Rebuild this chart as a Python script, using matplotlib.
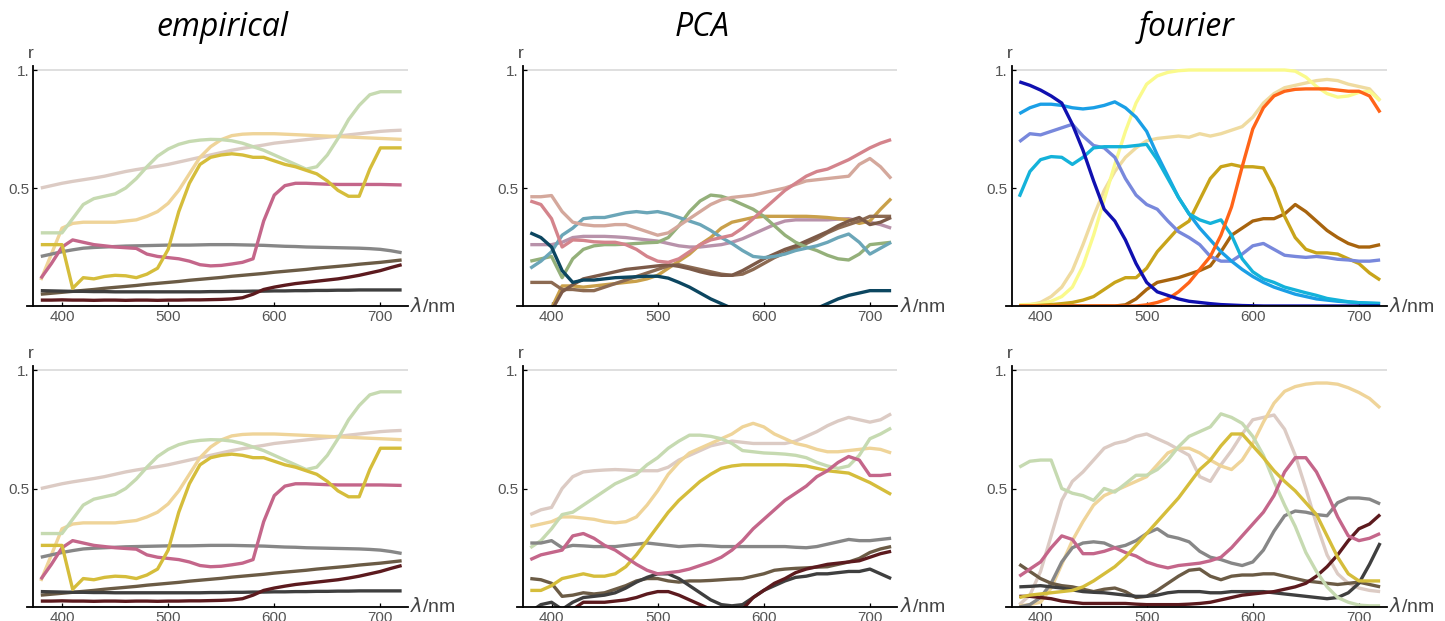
import matplotlib.pyplot as plt

plt.rcParams["font.family"] = ["Liberation Sans", "DejaVu Sans"]

# wavelength grid (nm)
WL = list(range(380, 721, 10))

# ---------- empirical (top and bottom are the same set) ----------
emp_green = [.31, .31, .31, .37, .43, .455, .465, .475, .50, .54, .59, .635, .665, .685, .697, .703, .706, .705,
             .70, .69, .675, .66, .64, .62, .60, .58, .59, .64, .71, .79, .85, .895, .908, .908, .908]
emp_beige = [.50, .51, .52, .528, .535, .542, .55, .56, .57, .578, .585, .592, .60, .61, .62, .63, .64, .65,
             .66, .668, .675, .682, .69, .695, .70, .705, .71, .715, .72, .725, .73, .735, .74, .743, .745]
emp_wheat = [.11, .22, .33, .35, .355, .355, .355, .355, .36, .365, .38, .40, .435, .49, .56, .63, .675, .705,
             .722, .728, .73, .73, .73, .728, .726, .724, .722, .72, .718, .716, .714, .712, .71, .708, .706]
emp_yellow = [.26, .26, .26, .075, .12, .115, .125, .13, .128, .12, .135, .16, .24, .40, .52, .60, .63, .64,
              .645, .64, .63, .63, .615, .60, .59, .575, .56, .53, .49, .465, .465, .58, .67, .67, .67]
emp_pink = [.117, .18, .25, .28, .27, .26, .255, .25, .247, .244, .22, .21, .205, .20, .19, .175, .17, .172,
            .178, .185, .20, .36, .47, .51, .52, .52, .518, .516, .515, .515, .515, .515, .515, .514, .513]
emp_gray = [.21, .22, .23, .238, .245, .248, .25, .252, .254, .255, .256, .257, .258, .258, .258, .259, .26, .26,
            .26, .259, .258, .257, .255, .253, .252, .25, .249, .248, .247, .246, .245, .243, .24, .234, .226]
emp_olive = [.050, .054, .058, .062, .066, .070, .075, .079, .083, .087, .092, .096, .100, .104, .109, .113, .117,
             .121, .126, .130, .134, .138, .143, .147, .151, .155, .160, .164, .168, .172, .177, .181, .185, .190, .195]
emp_dark = [.065, .064, .063, .062, .062, .061, .061, .060, .060, .060, .060, .060, .060, .060, .060, .060, .061,
            .061, .062, .062, .063, .063, .064, .064, .065, .065, .066, .066, .067, .067, .068, .068, .068, .068, .068]
emp_maroon = [.025, .025, .026, .025, .025, .024, .025, .025, .024, .025, .025, .024, .025, .025, .026, .026, .027,
              .028, .03, .035, .05, .07, .08, .088, .095, .10, .105, .11, .115, .122, .13, .14, .15, .163, .175]

# ---------- PCA top ----------
pca1_navy = [.31, .29, .25, .15, .10, .11, .11, .115, .12, .122, .124, .126, .126, .118, .10, .08, .055, .03,
             .01, -.01, -.03, -.05, -.06, -.06, -.06, -.05, -.03, -.01, .01, .03, .045, .055, .065, .065, .065]
pca1_teal = [.16, .19, .23, .30, .33, .37, .375, .375, .385, .395, .40, .395, .40, .39, .375, .36, .345, .32,
             .29, .265, .235, .21, .205, .21, .22, .235, .245, .255, .27, .29, .305, .27, .22, .245, .27]
pca1_green = [.19, .20, .21, .12, .20, .24, .255, .26, .26, .262, .265, .268, .27, .29, .34, .40, .445, .47,
              .465, .45, .43, .41, .38, .34, .30, .27, .25, .235, .215, .20, .195, .22, .26, .265, .27]
pca1_rose = [.445, .43, .37, .25, .28, .278, .272, .27, .27, .26, .24, .21, .19, .185, .20, .23, .26, .28,
             .29, .30, .33, .37, .41, .45, .49, .52, .55, .57, .58, .60, .62, .645, .67, .69, .705]
pca1_dusty = [.463, .463, .468, .40, .355, .345, .34, .34, .345, .345, .33, .315, .30, .31, .34, .37, .40, .43,
              .45, .46, .465, .47, .48, .49, .50, .515, .53, .535, .54, .545, .55, .60, .625, .59, .54]
pca1_mauve = [.26, .26, .26, .27, .29, .295, .295, .295, .293, .29, .285, .28, .275, .265, .255, .25, .25, .255,
              .26, .27, .285, .305, .325, .345, .36, .365, .365, .365, .365, .368, .37, .36, .355, .345, .33]
pca1_ochre = [-.05, -.03, -.01, .085, .085, .08, .085, .09, .095, .10, .105, .115, .13, .16, .19, .22, .26, .29,
              .33, .355, .365, .375, .38, .38, .38, .38, .38, .378, .375, .37, .365, .35, .36, .41, .455]
pca1_brown1 = [.10, .10, .10, .07, .07, .065, .065, .08, .095, .11, .125, .14, .155, .17, .175, .165, .155, .145,
               .135, .13, .135, .155, .18, .205, .225, .245, .265, .285, .31, .33, .345, .36, .38, .38, .38]
pca1_brown2 = [-.05, -.04, -.02, .06, .09, .115, .125, .135, .145, .155, .16, .165, .17, .175, .168, .158, .145,
               .135, .13, .13, .15, .175, .20, .22, .24, .255, .275, .295, .315, .34, .36, .375, .345, .355, .375]

# ---------- fourier top ----------
f1_navy = [.95, .935, .915, .89, .86, .77, .66, .53, .41, .36, .28, .18, .10, .06, .045, .03, .02, .015,
           .01, .006, .004, .002, .001, 0, 0, 0, 0, 0, 0, 0, 0, 0, 0, 0, 0]
f1_sky = [.815, .84, .855, .855, .85, .84, .835, .84, .85, .865, .84, .80, .74, .64, .55, .46, .39, .33,
          .28, .23, .19, .155, .125, .10, .08, .065, .05, .04, .03, .025, .02, .017, .014, .012, .01]
f1_cyan = [.463, .57, .62, .633, .63, .60, .63, .67, .675, .675, .675, .68, .685, .62, .54, .46, .39, .365,
           .35, .365, .30, .20, .145, .115, .10, .08, .068, .056, .045, .032, .025, .018, .014, .012, .011]
f1_peri = [.696, .73, .725, .74, .755, .77, .72, .68, .67, .63, .54, .47, .43, .41, .36, .315, .29, .26,
           .21, .19, .19, .22, .255, .265, .24, .215, .21, .206, .21, .205, .198, .195, .19, .19, .195]
f1_yellow = [.005, .007, .01, .02, .04, .08, .17, .30, .45, .60, .74, .86, .94, .975, .99, .997, 1.0, 1.0,
             1.0, 1.0, 1.0, 1.0, 1.0, 1.0, 1.0, 1.0, .995, .97, .93, .90, .885, .89, .905, .91, .87]
f1_wheat = [0, .005, .015, .04, .08, .15, .26, .38, .49, .57, .63, .67, .70, .71, .715, .72, .715, .73,
            .72, .73, .745, .76, .80, .86, .90, .925, .935, .945, .955, .96, .955, .94, .93, .92, .87]
f1_orange = [0, 0, 0, 0, 0, 0, 0, 0, 0, 0, 0, 0, .005, .015, .03, .06, .10, .155,
             .21, .30, .42, .59, .75, .84, .89, .91, .918, .92, .92, .92, .915, .91, .91, .89, .82]
f1_gold = [0, 0, .003, .006, .01, .015, .025, .04, .07, .10, .12, .12, .16, .23, .28, .33, .36, .45,
           .54, .59, .60, .59, .59, .585, .50, .38, .29, .24, .225, .225, .22, .20, .18, .14, .11]
f1_brown = [0, 0, 0, 0, 0, 0, 0, 0, 0, 0, .005, .03, .07, .10, .11, .12, .135, .15,
            .17, .23, .30, .33, .36, .37, .37, .39, .43, .40, .36, .32, .29, .265, .25, .25, .26]

# ---------- PCA bottom ----------
pca2_beige = [.39, .41, .42, .50, .55, .57, .575, .578, .58, .578, .575, .575, .575, .59, .62, .64, .66, .68,
              .69, .70, .695, .69, .69, .69, .69, .70, .72, .74, .765, .785, .80, .79, .78, .79, .815]
pca2_green = [.25, .28, .33, .39, .40, .43, .46, .49, .52, .54, .56, .60, .63, .67, .70, .725, .725, .72,
              .71, .69, .66, .655, .65, .648, .645, .64, .63, .61, .595, .585, .595, .64, .71, .73, .755]
pca2_wheat = [.34, .35, .36, .38, .38, .375, .37, .36, .355, .36, .38, .43, .49, .56, .61, .65, .67, .69,
              .71, .73, .76, .775, .76, .73, .71, .69, .68, .665, .655, .655, .66, .665, .67, .665, .65]
pca2_yellow = [.07, .07, .09, .12, .13, .14, .13, .13, .14, .17, .22, .28, .34, .40, .45, .49, .53, .56,
               .585, .595, .60, .60, .60, .60, .60, .598, .595, .585, .575, .57, .565, .545, .525, .50, .475]
pca2_pink = [.20, .22, .23, .24, .30, .31, .29, .26, .24, .21, .18, .155, .14, .145, .15, .16, .175, .19,
             .21, .24, .28, .33, .37, .41, .45, .48, .51, .55, .575, .61, .635, .62, .555, .555, .56]
pca2_gray = [.27, .27, .28, .25, .26, .258, .255, .255, .255, .26, .265, .27, .265, .26, .255, .258, .26, .258,
             .255, .255, .255, .255, .255, .255, .255, .252, .25, .255, .265, .275, .285, .28, .28, .285, .29]
pca2_olive = [.12, .115, .10, .045, .05, .06, .055, .06, .075, .09, .11, .12, .12, .11, .105, .11, .11, .112,
              .115, .118, .12, .13, .14, .155, .16, .163, .165, .168, .17, .18, .19, .205, .23, .245, .255]
pca2_dark = [-.02, .01, .02, -.01, .02, .04, .045, .05, .06, .08, .105, .125, .14, .14, .12, .09, .06, .03,
             .01, .005, .01, .04, .07, .09, .11, .125, .13, .14, .14, .145, .15, .15, .16, .14, .12]
pca2_maroon = [-.05, -.05, -.04, -.02, -.01, .02, .02, .02, .025, .03, .04, .055, .065, .065, .05, .03, .01, -.01,
               -.03, -.03, -.01, .04, .07, .10, .12, .145, .16, .17, .18, .185, .19, .195, .21, .225, .235]

# ---------- fourier bottom ----------
f2_green = [.59, .615, .62, .62, .50, .48, .47, .45, .50, .485, .52, .556, .556, .58, .62, .676, .72, .74,
            .76, .815, .80, .775, .72, .64, .53, .43, .34, .23, .15, .085, .04, .02, .008, .005, .005]
f2_beige = [.01, .05, .15, .30, .45, .53, .57, .62, .67, .69, .70, .72, .73, .71, .69, .665, .64, .55,
            .53, .60, .66, .73, .79, .80, .81, .75, .64, .50, .35, .22, .14, .10, .08, .07, .065]
f2_wheat = [.005, .01, .02, .08, .18, .28, .36, .43, .47, .49, .51, .53, .55, .60, .65, .67, .67, .65,
            .62, .595, .58, .62, .69, .78, .86, .91, .93, .94, .945, .945, .94, .925, .905, .88, .84]
f2_yellow = [.04, .05, .055, .06, .065, .07, .085, .11, .14, .17, .21, .26, .31, .36, .41, .46, .52, .58,
             .62, .68, .73, .73, .68, .63, .575, .53, .49, .44, .39, .30, .21, .14, .11, .11, .11]
f2_pink = [.13, .16, .19, .25, .30, .285, .225, .225, .235, .25, .23, .215, .19, .175, .165, .175, .18, .185,
           .195, .21, .25, .30, .35, .40, .47, .57, .63, .63, .57, .48, .38, .30, .28, .29, .31]
f2_gray = [0, .01, .04, .10, .19, .25, .27, .275, .27, .25, .26, .28, .31, .33, .30, .29, .275, .235,
           .21, .20, .185, .175, .19, .24, .32, .385, .405, .40, .39, .385, .44, .46, .46, .455, .435]
f2_olive = [.18, .15, .12, .10, .09, .085, .075, .065, .075, .08, .065, .04, .045, .07, .10, .13, .155, .16,
            .13, .115, .13, .135, .135, .14, .14, .13, .12, .11, .105, .10, .095, .10, .105, .095, .085]
f2_dark = [.085, .087, .09, .085, .08, .072, .065, .062, .06, .055, .05, .045, .045, .05, .06, .065, .065, .065,
           .06, .06, .065, .065, .065, .065, .06, .055, .05, .045, .04, .035, .04, .06, .10, .18, .27]
f2_maroon = [.045, .045, .04, .035, .025, .02, .015, .015, .015, .015, .015, .012, .01, .01, .01, .01, .012, .015,
             .02, .03, .04, .05, .055, .06, .065, .075, .085, .10, .13, .17, .22, .28, .33, .35, .39]

# colours
C_GREEN, C_BEIGE, C_WHEAT = "#c6dab1", "#dccbc4", "#efd499"
C_YELLOW, C_PINK, C_GRAY = "#d5bd3b", "#c4668a", "#878787"
C_OLIVE, C_DARK, C_MAROON = "#6b5b45", "#3f3f3f", "#5c1a1e"

emp_curves = [(emp_beige, C_BEIGE), (emp_wheat, C_WHEAT), (emp_green, C_GREEN), (emp_gray, C_GRAY),
              (emp_olive, C_OLIVE), (emp_dark, C_DARK), (emp_maroon, C_MAROON), (emp_pink, C_PINK),
              (emp_yellow, C_YELLOW)]

panels = [
    emp_curves,
    [(pca1_mauve, "#b892aa"), (pca1_ochre, "#c9a04a"), (pca1_brown1, "#8c6a52"),
     (pca1_brown2, "#7c5a48"), (pca1_green, "#94b07a"), (pca1_teal, "#6ba6b8"),
     (pca1_dusty, "#d4a89c"), (pca1_rose, "#d4848c"), (pca1_navy, "#0c4660")],
    [(f1_wheat, "#efdba0"), (f1_yellow, "#fafa8c"), (f1_brown, "#a8640e"), (f1_gold, "#c8a41a"),
     (f1_peri, "#7888dc"), (f1_sky, "#1a9fe6"), (f1_cyan, "#14b2da"), (f1_orange, "#ff6418"),
     (f1_navy, "#1010b0")],
    emp_curves,
    [(pca2_beige, C_BEIGE), (pca2_wheat, C_WHEAT), (pca2_green, C_GREEN), (pca2_gray, C_GRAY),
     (pca2_olive, C_OLIVE), (pca2_dark, C_DARK), (pca2_maroon, C_MAROON), (pca2_yellow, C_YELLOW),
     (pca2_pink, C_PINK)],
    [(f2_beige, C_BEIGE), (f2_wheat, C_WHEAT), (f2_gray, C_GRAY), (f2_olive, C_OLIVE),
     (f2_dark, C_DARK), (f2_maroon, C_MAROON), (f2_green, C_GREEN), (f2_pink, C_PINK),
     (f2_yellow, C_YELLOW)],
]

W, H = 1445, 621
fig = plt.figure(figsize=(W / 100, H / 100), dpi=100)

lefts = [27, 516.5, 1005.5]      # pixel x of axes left edge
zero_y = [306, 607]              # pixel y of r = 0
unit = [236, 237]                # pixels per r unit
width_px = 381

for i, curves in enumerate(panels):
    row, col = divmod(i, 3)
    ax = fig.add_axes([lefts[col] / W, (H - zero_y[row]) / H, width_px / W, unit[row] * 1.015 / H])
    ax.set_xlim(367, 726)
    ax.set_ylim(0, 1.015)
    for s in ("top", "right"):
        ax.spines[s].set_visible(False)
    ax.spines["left"].set_position(("data", 373))
    ax.spines["left"].set_linewidth(1.3)
    ax.spines["bottom"].set_linewidth(1.3)
    ax.hlines(1.0, 373, 726, color="#d6d6d6", lw=1.1, zorder=0)

    for vals, color in curves:
        ax.plot(WL, vals, color=color, lw=2.4, solid_capstyle="butt")

    ax.set_xticks([400, 500, 600, 700])
    ax.set_yticks([0.5, 1.0])
    ax.set_yticklabels(["0.5", "1."])
    ax.tick_params(direction="in", length=3, width=0.9, labelsize=11, labelcolor="#555555", pad=3)
    ax.text(371, 1.07, "r", ha="center", va="center", fontsize=12.5, color="#444444")
    ax.text(1.006, 0, r"$\lambda$/nm", transform=ax.transAxes, ha="left", va="center",
            fontsize=14, color="#444444")

title_x = [222, 702, 1187]
for name, x in zip(["empirical", "PCA", "fourier"], title_x):
    fig.text(x / W, 1 - 27 / H, name, ha="center", va="center", fontsize=23,
             style="italic", family="Open Sans")

fig.savefig("out.png", dpi=100, facecolor="white")
